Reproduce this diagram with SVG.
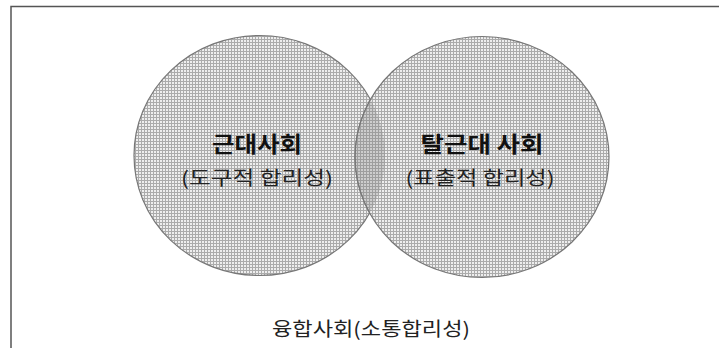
<svg xmlns="http://www.w3.org/2000/svg" width="719" height="348" viewBox="0 0 719 348">
<style>
.t{font-family:"Noto Sans CJK KR","Noto Sans",sans-serif;fill:#111;text-anchor:middle}
.b{font-weight:bold;font-size:22px}
.n{font-size:19px;fill:#222}
.e{fill:url(#grid);stroke:#777;stroke-width:1.2}
</style>
<defs>
<pattern id="grid" width="3" height="3" patternUnits="userSpaceOnUse">
<rect width="3" height="3" fill="#eeeeee"/>
<path d="M0 0.5H3M0.5 0V3" stroke="#ababab" stroke-width="1"/>
</pattern>
<clipPath id="clipL"><ellipse cx="259.5" cy="155.5" rx="125.5" ry="120"/></clipPath>
</defs>
<path d="M11 348V6.5H719" fill="none" stroke="#555" stroke-width="1.5"/>
<g id="modern"><ellipse class="e" cx="259.5" cy="155.5" rx="125.5" ry="120"/></g>
<g id="postmodern"><ellipse class="e" cx="482" cy="157" rx="127" ry="120.5"/></g>
<g id="overlap"><ellipse cx="482" cy="157" rx="127" ry="120.5" clip-path="url(#clipL)" fill="#808080" fill-opacity="0.3" stroke="#777" stroke-width="1"/></g>
<g id="labels">
<text class="t b" x="257" y="152" textLength="90" lengthAdjust="spacingAndGlyphs">근대사회</text>
<text class="t n" x="257" y="185" textLength="152" lengthAdjust="spacingAndGlyphs">(도구적 합리성)</text>
<text class="t b" x="482" y="152" textLength="123" lengthAdjust="spacingAndGlyphs">탈근대 사회</text>
<text class="t n" x="480" y="185" textLength="149" lengthAdjust="spacingAndGlyphs">(표출적 합리성)</text>
</g>
<g id="fusion"><text class="t n" x="371" y="336" textLength="198" lengthAdjust="spacingAndGlyphs">융합사회(소통합리성)</text></g>
<g id="connectors"/>
</svg>
